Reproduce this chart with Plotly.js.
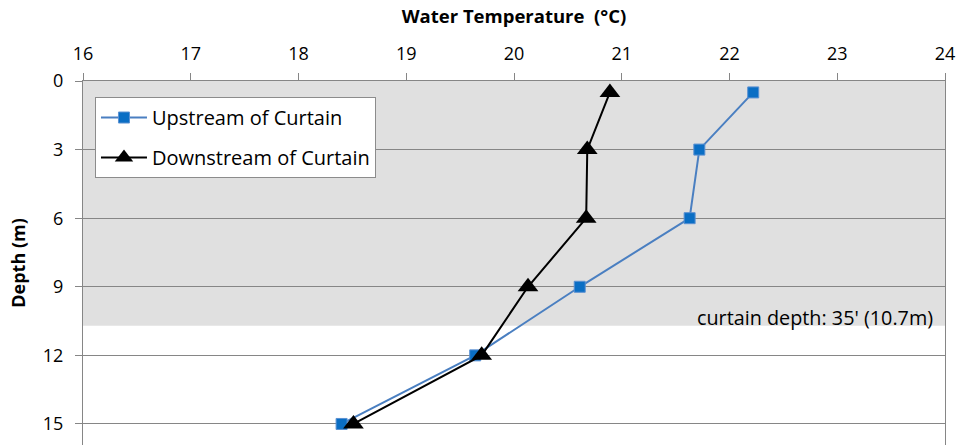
<!DOCTYPE html>
<html>
<head>
<meta charset="utf-8">
<script src="https://cdn.plot.ly/plotly-3.0.1.min.js"></script>
<style>html,body{margin:0;padding:0;background:#fff;}#chart{width:958px;height:445px;}</style>
</head>
<body>
<div id="chart"></div>
<script>
const depths = [0.5, 3, 6, 9, 12, 15];
const upstreamTemp = [22.22, 21.72, 21.63, 20.61, 19.64, 18.40];
const downstreamTemp = [20.89, 20.68, 20.67, 20.13, 19.70, 18.51];
const seriesNames = ["Upstream of Curtain", "Downstream of Curtain"];
const curtainDepth = 10.7;
const curtainLabel = "curtain depth: 35' (10.7m)";
const xTicks = [16, 17, 18, 19, 20, 21, 22, 23, 24];
const yTicks = [0, 3, 6, 9, 12, 15];

const font = "Open Sans, Liberation Sans, sans-serif";

const traces = [
  {
    x: upstreamTemp, y: depths, name: seriesNames[0], legendgroup: "a",
    mode: "lines+markers", type: "scatter",
    line: {color: "#4a7fc1", width: 2},
    marker: {symbol: "square", size: 11, color: "#0a6ec4", line: {color: "#5b91d2", width: 1}}
  },
  {
    x: downstreamTemp, y: depths, name: seriesNames[1], legendgroup: "b",
    mode: "lines+markers", type: "scatter",
    line: {color: "#000000", width: 2},
    marker: {symbol: "triangle-up", size: 18, color: "#000000"}
  }
];

const layout = {
  width: 958, height: 445,
  margin: {l: 83, r: 13, t: 81, b: 0},
  paper_bgcolor: "#ffffff", plot_bgcolor: "#ffffff",
  font: {family: font, size: 16, color: "#000"},
  showlegend: true,
  legend: {
    x: 0.0139, y: 0.956, xanchor: "left", yanchor: "top",
    bgcolor: "#ffffff", bordercolor: "#8c8c8c", borderwidth: 1,
    font: {family: font, size: 20, color: "#000"},
    traceorder: "grouped", tracegroupgap: 11, itemwidth: 46
  },
  xaxis: {
    side: "top", range: [16, 24], tickvals: xTicks, ticktext: xTicks.map(String),
    ticks: "outside", ticklen: 7, tickcolor: "#868686", ticklabelstandoff: 6,
    showline: true, linecolor: "#868686", linewidth: 1,
    showgrid: false, zeroline: false,
    tickfont: {family: font, size: 18, color: "#000"},
    title: {text: "<b>Water Temperature  (°C)</b>", font: {family: font, size: 18.5, color: "#000"}, standoff: 12}
  },
  yaxis: {
    range: [15.92, 0], tickvals: yTicks, ticktext: yTicks.map(String),
    ticks: "outside", ticklen: 7, tickcolor: "#868686", ticklabelstandoff: 8,
    showline: true, mirror: true, linecolor: "#868686", linewidth: 1,
    showgrid: true, gridcolor: "#868686", gridwidth: 1, zeroline: false,
    tickfont: {family: font, size: 18, color: "#000"},
    title: {text: "<b>Depth (m)</b>", font: {family: font, size: 18, color: "#000"}, standoff: 12}
  },
  shapes: [
    {type: "rect", xref: "paper", yref: "y", x0: 0, x1: 1, y0: 0, y1: curtainDepth,
     fillcolor: "#e0e0e0", line: {width: 0}, layer: "below"}
  ],
  annotations: [
    {xref: "paper", yref: "y", x: 0.988, y: (curtainDepth + 9) / 2 + 0.5, xanchor: "right", yanchor: "middle",
     text: curtainLabel, showarrow: false, font: {family: font, size: 19.8, color: "#000"}}
  ]
};

Plotly.newPlot("chart", traces, layout, {displayModeBar: false, staticPlot: true});
</script>
</body>
</html>
